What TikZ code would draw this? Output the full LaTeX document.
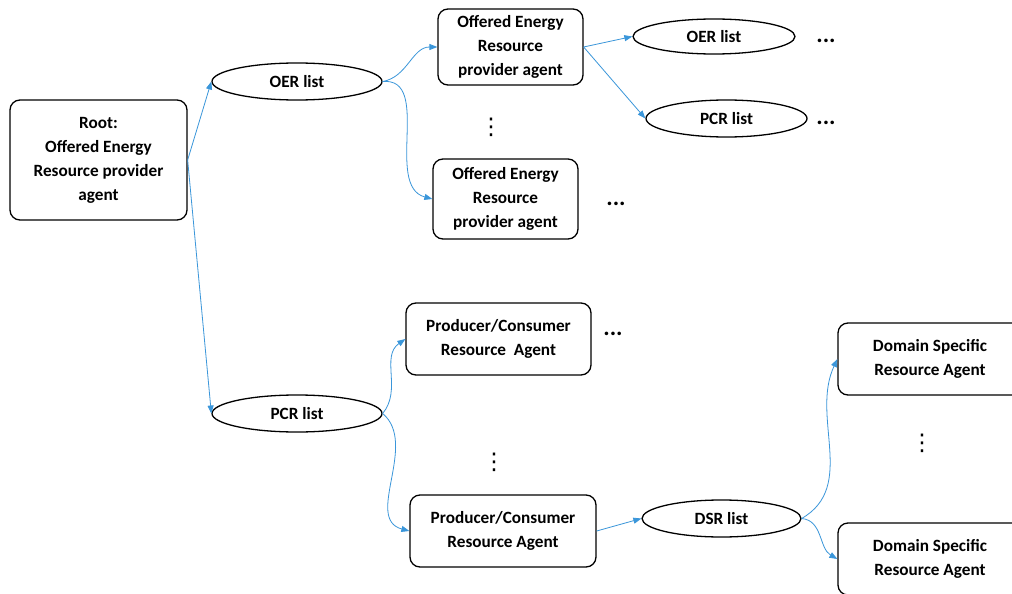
\documentclass[tikz,border=0pt]{standalone}
\usepackage{fontspec}
\setmainfont{Carlito}
\newfontfamily\symfont{DejaVu Sans}
\usetikzlibrary{shapes.geometric,arrows.meta}
\definecolor{linkblue}{RGB}{58,150,218}
\tikzset{
  agentbox/.style={draw=black, line width=1.3pt, rounded corners=10pt, align=center,
    inner sep=0pt, font=\fontsize{17.2}{24}\selectfont\bfseries},
  listnode/.style={draw=black, line width=1.3pt, ellipse, inner sep=0pt, align=center,
    font=\fontsize{17.2}{24}\selectfont\bfseries},
  more/.style={font=\fontsize{24}{24}\selectfont\bfseries, inner sep=0pt, anchor=base},
  vmore/.style={font=\symfont\fontsize{23}{23}\selectfont, inner sep=0pt},
  link/.style={draw=linkblue, line width=0.8pt, -{Triangle[length=8pt,width=6pt]}},
}
\begin{document}
\begin{tikzpicture}[x=1pt,y=-1pt]
\clip (0,0) rectangle (1012,594);
\fill[white] (0,0) rectangle (1012,594);

% root agent
\node[agentbox, minimum width=177pt, minimum height=120pt] (root) at (98.5,160)
  {Root:\\Offered Energy\\Resource provider\\agent};

% first-level lists
\node[listnode, minimum width=170pt, minimum height=37pt] (oer1) at (297,81.5) {OER list};
\node[listnode, minimum width=170pt, minimum height=37pt] (pcr1) at (297,413.5) {PCR list};

% offered energy resource provider agents
\node[agentbox, minimum width=145pt, minimum height=76pt] (oa1) at (510.5,47)
  {Offered Energy\\Resource\\provider agent};
\node[agentbox, minimum width=145pt, minimum height=80pt] (oa2) at (505.5,199)
  {Offered Energy\\Resource\\provider agent};
\node[vmore] (vd1) at (491,127) {⋮};
\node[more] (m3) at (616,205) {...};

% lists of the first provider agent
\node[listnode, minimum width=162pt, minimum height=35pt] (oer2) at (714,36.5) {OER list};
\node[listnode, minimum width=161pt, minimum height=37pt] (pcr2) at (726.5,118.5) {PCR list};
\node[more] (m1) at (826,43) {...};
\node[more] (m2) at (826,124) {...};

% producer/consumer resource agents
\node[agentbox, minimum width=185pt, minimum height=72pt] (pa1) at (498.5,339)
  {Producer/Consumer\\Resource~ Agent};
\node[agentbox, minimum width=186pt, minimum height=72pt] (pa2) at (503,531)
  {Producer/Consumer\\Resource Agent};
\node[more] (m4) at (613,335) {...};
\node[vmore] (vd2) at (494,462) {⋮};

% domain specific resources
\node[listnode, minimum width=159pt, minimum height=37pt] (dsr) at (721.5,518.5) {DSR list};
\node[agentbox, minimum width=184pt, minimum height=72pt] (da1) at (930,359)
  {Domain Specific\\Resource Agent};
\node[agentbox, minimum width=184pt, minimum height=72pt] (da2) at (930,559)
  {Domain Specific\\Resource Agent};
\node[vmore] (vd3) at (922,443) {⋮};

% connectors
\draw[link] (root.east) -- (oer1.west);
\draw[link] (root.east) -- (pcr1.west);
\draw[link] (oer1.east) to[out=10,in=180] (oa1.west);
\draw[link] (oer1.east) to[out=5,in=165] (oa2.west);
\draw[link] (oa1.east) -- (oer2.west);
\draw[link] (oa1.east) -- (pcr2.west);
\draw[link] (pcr1.east) to[out=50,in=215] (pa1.west);
\draw[link] (pcr1.east) to[out=-40,in=165] (pa2.west);
\draw[link] (pa2.east) -- (dsr.west);
\draw[link] (dsr.east) to[out=30,in=245] (da1.west);
\draw[link] (dsr.east) to[out=-5,in=150] (da2.west);
\end{tikzpicture}
\end{document}
